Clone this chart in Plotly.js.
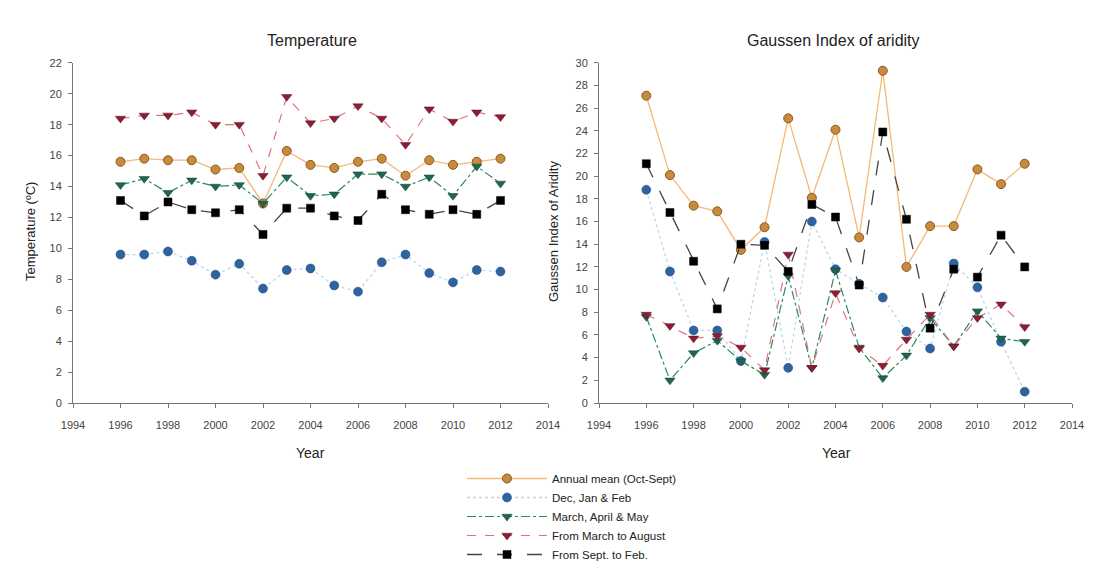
<!DOCTYPE html>
<html><head><meta charset="utf-8">
<script src="https://cdn.plot.ly/plotly-3.0.1.min.js"></script>
<style>body{margin:0;background:#fff}#c{width:1103px;height:563px}</style>
</head><body><div id="c"></div>
<script>
const years = [1996,1997,1998,1999,2000,2001,2002,2003,2004,2005,2006,2007,2008,2009,2010,2011,2012];
const seriesNames = ["Annual mean (Oct-Sept)","Dec, Jan & Feb","March, April & May","From March to August","From Sept. to Feb."];
// Temperature (ºC)
const tempAnnual = [15.6,15.8,15.7,15.7,15.1,15.2,12.9,16.3,15.4,15.2,15.6,15.8,14.7,15.7,15.4,15.6,15.8];
const tempDJF    = [9.6,9.6,9.8,9.2,8.3,9.0,7.4,8.6,8.7,7.6,7.2,9.1,9.6,8.4,7.8,8.6,8.5];
const tempMAM    = [14.1,14.5,13.6,14.4,14.0,14.1,12.9,14.6,13.4,13.5,14.8,14.8,14.0,14.6,13.4,15.3,14.2];
const tempMarAug = [18.4,18.6,18.6,18.8,18.0,18.0,14.7,19.8,18.1,18.4,19.2,18.4,16.7,19.0,18.2,18.8,18.5];
const tempSepFeb = [13.1,12.1,13.0,12.5,12.3,12.5,10.9,12.6,12.6,12.1,11.8,13.5,12.5,12.2,12.5,12.2,13.1];
// Gaussen index of aridity
const gausAnnual = [27.1,20.1,17.4,16.9,13.5,15.5,25.1,18.1,24.1,14.6,29.3,12.0,15.6,15.6,20.6,19.3,21.1];
const gausDJF    = [18.8,11.6,6.4,6.4,3.7,14.2,3.1,16.0,11.8,10.5,9.3,6.3,4.8,12.3,10.2,5.4,1.0];
const gausMAM    = [7.6,2.0,4.4,5.5,3.7,2.5,11.2,3.1,11.7,4.9,2.2,4.2,7.5,5.0,8.1,5.7,5.4];
const gausMarAug = [7.8,6.8,5.7,5.9,4.9,2.9,13.1,3.1,9.7,4.8,3.3,5.6,7.8,5.0,7.5,8.7,6.7];
const gausSepFeb = [21.1,16.8,12.5,8.3,14.0,13.9,11.6,17.5,16.4,10.4,23.9,16.2,6.6,11.8,11.1,14.8,12.0];
const xTicks = [1994,1996,1998,2000,2002,2004,2006,2008,2010,2012,2014];

const styles = [
  {line:{color:'#f4b878',width:1.3,dash:'solid'}, marker:{symbol:'circle',size:9,color:'#c98a3e',line:{color:'#8a5a20',width:1}}},
  {line:{color:'#b8d8f0',width:1.3,dash:'dot'}, marker:{symbol:'circle',size:9,color:'#2f63a0',line:{color:'#1f4576',width:0.5}}},
  {line:{color:'#2a8a5a',width:1.2,dash:'dashdot'}, marker:{symbol:'triangle-down',size:9,color:'#1e6650',line:{color:'#123f30',width:0.5}}},
  {line:{color:'#e07080',width:1.2,dash:'dash'}, marker:{symbol:'triangle-down',size:9,color:'#8c1e34',line:{color:'#5a1020',width:0.5}}},
  {line:{color:'#444444',width:1.3,dash:'longdash'}, marker:{symbol:'square',size:8,color:'#000000',line:{color:'#000',width:0.5}}}
];
const tempSeries = [tempAnnual,tempDJF,tempMAM,tempMarAug,tempSepFeb];
const gausSeries = [gausAnnual,gausDJF,gausMAM,gausMarAug,gausSepFeb];
const traces = [];
tempSeries.forEach((s,i)=>traces.push({x:years,y:s,type:'scatter',mode:'lines+markers',name:seriesNames[i],legendgroup:'g'+i,showlegend:true,xaxis:'x',yaxis:'y',line:styles[i].line,marker:styles[i].marker}));
gausSeries.forEach((s,i)=>traces.push({x:years,y:s,type:'scatter',mode:'lines+markers',name:seriesNames[i],legendgroup:'g'+i,showlegend:false,xaxis:'x2',yaxis:'y2',line:styles[i].line,marker:styles[i].marker}));

const ax = {automargin:false,showgrid:false,zeroline:false,showline:true,linecolor:'#777',linewidth:1,ticks:'outside',ticklen:4,tickcolor:'#777',tickfont:{family:'Liberation Sans, Arial, sans-serif',size:11,color:'#444'}};
const H=563,W=1103;
const yd=[1-403/H,1-62.8/H];
const C = {xanchor:'center',yanchor:'middle',showarrow:false,xref:'paper',yref:'paper'};
const layout = {
  width:W,height:H,margin:{l:0,r:0,t:0,b:0,autoexpand:false},paper_bgcolor:'#fff',plot_bgcolor:'#fff',
  font:{family:'Liberation Sans, Arial, sans-serif',color:'#222'},
  xaxis:Object.assign({},ax,{domain:[73/W,548/W],range:[1994,2014],tickvals:xTicks,anchor:'y',ticklabelstandoff:8}),
  yaxis:Object.assign({},ax,{domain:yd,range:[0,22],dtick:2,anchor:'x',ticklabelstandoff:4}),
  xaxis2:Object.assign({},ax,{domain:[599/W,1072/W],range:[1994,2014],tickvals:xTicks,anchor:'y2',ticklabelstandoff:8}),
  yaxis2:Object.assign({},ax,{domain:yd,range:[0,30],dtick:2,anchor:'x2',ticklabelstandoff:4}),
  showlegend:true,
  legend:{x:462/W,y:1-464/H,xanchor:'left',yanchor:'top',itemwidth:80,tracegroupgap:0,font:{size:11.5,color:'#222'},bgcolor:'rgba(0,0,0,0)'},
  annotations:[
    Object.assign({},C,{text:'Temperature',x:312/W,y:1-40/H,font:{size:16,color:'#222'}}),
    Object.assign({},C,{text:'Gaussen Index of aridity',x:833/W,y:1-40/H,font:{size:16,color:'#222'}}),
    Object.assign({},C,{text:'Year',x:310/W,y:1-453/H,font:{size:14,color:'#222'}}),
    Object.assign({},C,{text:'Year',x:836/W,y:1-453/H,font:{size:14,color:'#222'}}),
    Object.assign({},C,{text:'Temperature (ºC)',x:30/W,y:1-232/H,textangle:-90,font:{size:13,color:'#222'}}),
    Object.assign({},C,{text:'Gaussen Index of Aridity',x:553/W,y:1-232/H,textangle:-90,font:{size:13,color:'#222'}})
  ]
};
Plotly.newPlot('c',traces,layout,{displayModeBar:false,staticPlot:true});
</script></body></html>
